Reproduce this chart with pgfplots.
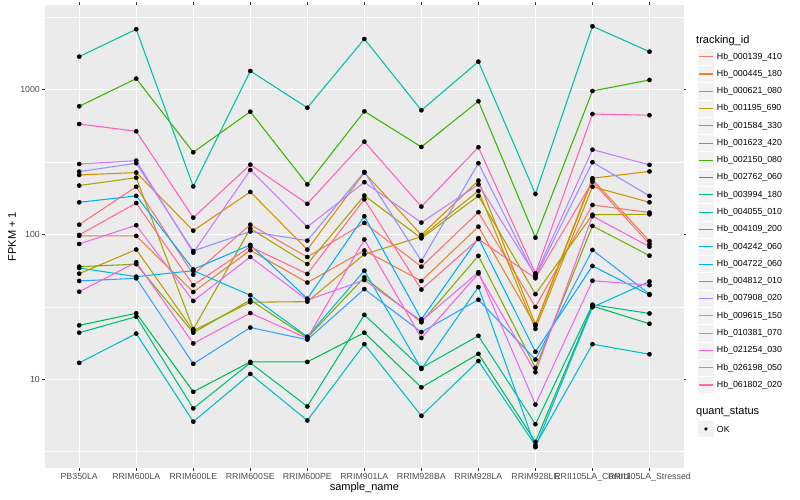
\documentclass[border=0pt]{standalone}
\usepackage{fontspec}
\setmainfont{Liberation Sans}
\usepackage{pgfplots}
\usepackage{pgfplotstable}
\pgfplotsset{compat=1.18}
\definecolor{c1}{HTML}{F8766D}
\definecolor{c2}{HTML}{EA8331}
\definecolor{c3}{HTML}{D89000}
\definecolor{c4}{HTML}{C09B00}
\definecolor{c5}{HTML}{A3A500}
\definecolor{c6}{HTML}{7CAE00}
\definecolor{c7}{HTML}{39B600}
\definecolor{c8}{HTML}{00BB4E}
\definecolor{c9}{HTML}{00BF7D}
\definecolor{c10}{HTML}{00C1A3}
\definecolor{c11}{HTML}{00BFC4}
\definecolor{c12}{HTML}{00BAE0}
\definecolor{c13}{HTML}{00B0F6}
\definecolor{c14}{HTML}{35A2FF}
\definecolor{c15}{HTML}{9590FF}
\definecolor{c16}{HTML}{C77CFF}
\definecolor{c17}{HTML}{E76BF3}
\definecolor{c18}{HTML}{FA62DB}
\definecolor{c19}{HTML}{FF62BC}
\definecolor{c20}{HTML}{FF6C91}
\definecolor{panelbg}{HTML}{EBEBEB}
\definecolor{tickc}{HTML}{333333}
\definecolor{ticklab}{HTML}{4D4D4D}
\definecolor{keybg}{HTML}{F2F2F2}
\newcommand\ticksize{\fontsize{8.8}{10}\selectfont}
\newcommand\titlesize{\fontsize{11}{13}\selectfont}

\pgfplotstableread{
x S1 S2 S3 S4 S5 S6 S7 S8 S9 S10 S11 S12 S13 S14 S15 S16 S17 S18 S19 S20
0 117 98 258 53.7 218 60 769 23.6 21.0 1693 13.0 58.8 167 47.8 272 307 86.1 40.3 580 99.4
1 214 97.8 268 78.8 247 62.4 1194 28.6 27.1 2618 20.7 51.2 185 49.9 311 324 116 64.4 517 165
2 52.9 40.1 106.4 21.7 22.2 21.0 370 8.2 6.3 215 5.1 56.3 57.5 12.8 77 75 34.8 17.7 130.8 44.7
3 117 77.9 197 34.1 110 35.3 706 13.2 13.0 1349 10.9 38.1 84.8 22.8 105 279 70 28.7 304 82.5
4 70 46.6 78.7 34.4 62.6 19.4 222 13.2 6.5 752 5.2 19.7 36.1 18.8 90.8 112.9 35.3 19.2 163 53.5
5 120.3 77.6 268 73.1 186 50.6 710 21 27.9 2244 17.5 56.3 133.7 42 271 230 48.5 92.5 438 175
6 60 47.8 99.4 96.7 94.2 24.8 403 8.8 12.0 722 5.6 11.8 26 21.2 65.7 121 25.3 19.3 156 41.7
7 142.6 113.4 236 200 185 71.3 833 15 20 1564 13.4 43.4 94.5 35.5 311 222 55 53.8 401 93
8 31.6 23.5 23.9 22.3 38.8 12 95.2 3.7 4.9 190.7 3.5 3.4 15.5 13.7 51 52.4 6.7 11.2 54 49.9
9 160 240 245 214 137 114.7 981 32.1 32.8 2745 17.5 31.5 60.7 78.3 316 386 48 134 680 232
10 142 90.3 273 167 138 71.5 1169 24.2 28.5 1833 14.9 47.4 38.3 38.8 185 303 44.7 82.4 667 86
}\data

\begin{document}
\begin{tikzpicture}
\path[use as bounding box] (0pt,0pt) rectangle (800pt,500pt);
\begin{axis}[
  at={(45pt,31.7pt)}, anchor=south west,
  scale only axis, width=638.7pt, height=463.3pt,
  xmin=-0.6, xmax=10.6,
  ymode=log, ymin=2.43, ymax=3851,
  axis background/.style={fill=panelbg},
  axis line style={draw=none},
  xtick={0,...,10},
  xticklabels={PB350LA,RRIM600LA,RRIM600LE,RRIM600SE,RRIM600PE,RRIM901LA,RRIM928BA,RRIM928LA,RRIM928LE,RRII105LA\_Control,RRII105LA\_Stressed},
  ytick={10,100,1000},
  yticklabels={10,100,1000},
  minor ytick={3.1623,31.623,316.23,3162.3},
  grid=both,
  major grid style={white, line width=1.07pt},
  minor grid style={white, line width=0.53pt},
  tick align=outside,
  major tick length=2.75pt,
  minor tick length=0pt,
  tick style={tickc, line width=1.07pt},
  /pgf/number format/assume math mode=true,
  xticklabel style={font=\ticksize, text=ticklab, inner sep=0pt, yshift=-2.2pt},
  yticklabel style={font=\ticksize, text=ticklab, inner sep=0pt, xshift=-2.2pt},
  xlabel={sample\_name},
  ylabel={FPKM + 1},
  xlabel style={font=\titlesize, at={(axis description cs:0.5,-0.0425)}, anchor=center},
  ylabel style={font=\titlesize, at={(axis description cs:-0.0517,0.5)}, anchor=center},
]
\pgfplotsinvokeforeach{1,...,20}{
  \addplot[color=c#1, line width=1.07pt, mark=none] table[x=x, y=S#1] {\data};
}
\pgfplotsinvokeforeach{1,...,20}{
  \addplot[only marks, mark=*, mark size=2.1pt, black] table[x=x, y=S#1] {\data};
}
\end{axis}
% legend
\node[anchor=west, inner sep=0pt, font=\titlesize] at (696pt,459.3pt) {tracking\_id};
\foreach \i/\nm in {1/Hb\_000139\_410,2/Hb\_000445\_180,3/Hb\_000621\_080,4/Hb\_001195\_690,5/Hb\_001584\_330,6/Hb\_001623\_420,7/Hb\_002150\_080,8/Hb\_002762\_060,9/Hb\_003994\_180,10/Hb\_004055\_010,11/Hb\_004109\_200,12/Hb\_004242\_060,13/Hb\_004722\_060,14/Hb\_004812\_010,15/Hb\_007908\_020,16/Hb\_009615\_150,17/Hb\_010381\_070,18/Hb\_021254\_030,19/Hb\_026198\_050,20/Hb\_061802\_020} {
  \pgfmathsetmacro{\yc}{500-56.7-(\i-1)*17.28}
  \pgfmathsetmacro{\yb}{\yc-8.64}
  \fill[keybg, draw=white, line width=0.5pt] (697.3pt,\yb pt) rectangle ++(17.28pt,17.28pt);
  \draw[color=c\i, line width=1.07pt] (699.0pt,\yc pt) -- (712.9pt,\yc pt);
  \node[anchor=west, inner sep=0pt, font=\ticksize] at (716.7pt,\yc pt) {\nm};
}
\node[anchor=west, inner sep=0pt, font=\titlesize] at (696pt,87.7pt) {quant\_status};
\fill[keybg, draw=white, line width=0.5pt] (697.3pt,62.36pt) rectangle ++(17.28pt,17.28pt);
\fill[black] (705.94pt,71pt) circle (1.8pt);
\node[anchor=west, inner sep=0pt, font=\ticksize] at (716.7pt,71pt) {OK};
\end{tikzpicture}
\end{document}
